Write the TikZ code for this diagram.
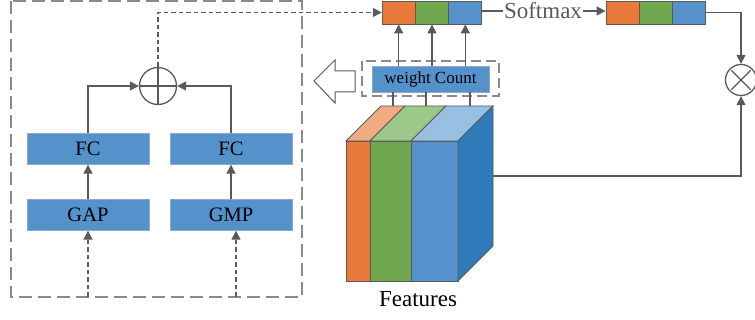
\documentclass[tikz,border=0pt]{standalone}
\usepackage{fontspec}
\setmainfont{Liberation Serif}
\usetikzlibrary{arrows.meta}
\usetikzlibrary{calc}

\definecolor{boxblue}{HTML}{5592CC}
\definecolor{boxedge}{HTML}{8EA9C8}
\definecolor{linegray}{HTML}{5A5A5A}
\definecolor{dashgray}{HTML}{8A8A8A}
\definecolor{corange}{HTML}{E97A3C}
\definecolor{cgreen}{HTML}{70A84F}
\definecolor{cblue}{HTML}{5592CC}
\definecolor{lorange}{HTML}{F0AA84}
\definecolor{lgreen}{HTML}{9CC98A}
\definecolor{lblue}{HTML}{98C0E2}
\definecolor{dblue}{HTML}{2F7AB8}

\begin{document}
\begin{tikzpicture}[x=1pt,y=-1pt,
    blk/.style={draw=boxedge,fill=boxblue,minimum width=122pt,minimum height=31pt,inner sep=0pt,font=\fontsize{20.5}{20.5}\selectfont},
    cell/.style={draw=linegray,line width=0.8pt,minimum width=33pt,minimum height=23pt,inner sep=0pt},
    ln/.style={draw=linegray,line width=1.3pt},
    arr/.style={ln,-{Triangle[length=9pt,width=9pt]}},
    outerdash/.style={draw=dashgray,line width=1.4pt,dash pattern=on 13pt off 6pt},
    innerdash/.style={dash pattern=on 4.5pt off 3pt}]
    \useasboundingbox (0,0) rectangle (755,320);
    \draw[outerdash] (11,1) rectangle (302,297);
    \node[blk] (fcL) at (88,149) {FC};
    \node[blk] (fcR) at (231,149) {FC};
    \node[blk] (gap) at (88,215) {GAP};
    \node[blk] (gmp) at (231,215) {GMP};
    \node[circle,ln,minimum size=37pt,inner sep=0pt] (add) at (158,86) {};
    \draw[ln] (add.north) -- (add.south);
    \draw[ln] (add.west) -- (add.east);
    \coordinate (inL) at (88,297);
    \coordinate (inR) at (236,297);
    \draw[arr,innerdash] (inL) -- (gap.south);
    \draw[arr,innerdash] (inR) -- (inR |- gmp.south);
    \draw[arr] (gap) -- (fcL);
    \draw[arr] (gmp) -- (fcR);
    \draw[arr] (fcL.north) |- (add.west);
    \draw[arr] (fcR.north) |- (add.east);
    \node[cell,fill=corange] (a1) at (398.7,12.5) {};
    \node[cell,fill=cgreen] (a2) at (432,12.5) {};
    \node[cell,fill=cblue] (a3) at (465.3,12.5) {};
    \draw[arr,innerdash] (add.north) |- (a1.west);
    \node[text=linegray,font=\fontsize{23}{23}\selectfont,inner sep=1pt] (soft) at (543,11) {Softmax};
    \node[cell,fill=corange] (b1) at (622.5,12.5) {};
    \node[cell,fill=cgreen] (b2) at (655.5,12.5) {};
    \node[cell,fill=cblue] (b3) at (688.5,12.5) {};
    \draw[ln] (a3.east |- soft.west) -- (soft.west);
    \draw[arr] (soft.east) -- (b1.west |- soft.east);
    \node[circle,ln,minimum size=31pt,inner sep=0pt] (mul) at (741,80) {};
    \draw[ln,shorten <=2.5pt,shorten >=2.5pt] (mul.45) -- (mul.225);
    \draw[ln,shorten <=2.5pt,shorten >=2.5pt] (mul.135) -- (mul.315);
    \draw[arr] (b3.east) -| (mul.north);
    \node[blk,minimum width=117pt,minimum height=26pt,font=\fontsize{17}{17}\selectfont] (wc) at (430.5,79) {weight Count};
    \draw[draw=dashgray,line width=1.3pt,dash pattern=on 10pt off 5pt] (362,61) rectangle (499,96);
    \draw[arr] (wc.north -| a1) -- (a1.south);
    \draw[arr] (wc.north -| a2) -- (a2.south);
    \draw[arr] (wc.north -| a3) -- (a3.south);
    \draw[linegray,line width=1pt,fill=white] (314,81) -- (335,60) -- (335,71) -- (355,71) -- (355,92) -- (335,92) -- (335,103) -- cycle;
    \begin{scope}[draw=linegray,line width=0.9pt]
        \filldraw[fill=corange] (346,141) rectangle (370,281);
        \filldraw[fill=cgreen] (370,141) rectangle (411,281);
        \filldraw[fill=cblue] (411,141) rectangle (458,281);
        \filldraw[fill=lorange] (346,141) -- (370,141) -- (405,106) -- (381,106) -- cycle;
        \filldraw[fill=lgreen] (370,141) -- (411,141) -- (446,106) -- (405,106) -- cycle;
        \filldraw[fill=lblue] (411,141) -- (458,141) -- (493,106) -- (446,106) -- cycle;
        \filldraw[fill=dblue] (458,141) -- (493,106) -- (493,246) -- (458,281) -- cycle;
    \end{scope}
    \coordinate (top1) at (393,106);
    \coordinate (top2) at (426,106);
    \coordinate (top3) at (470,106);
    \draw[ln] (top1) -- (top1 |- wc.south);
    \draw[ln] (top2) -- (top2 |- wc.south);
    \draw[ln] (top3) -- (top3 |- wc.south);
    \coordinate (cubeR) at (493,176);
    \draw[arr] (cubeR) -| (mul.south);
    \node[font=\fontsize{23}{23}\selectfont] (feat) at (418,299) {Features};
\end{tikzpicture}
\end{document}
